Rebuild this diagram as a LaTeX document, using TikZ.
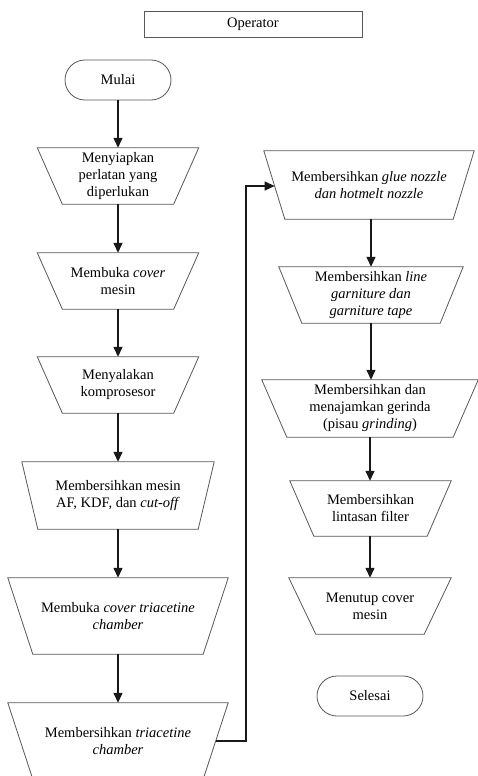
\documentclass[tikz,border=0pt]{standalone}
\usepackage{fontspec}
\setmainfont{Liberation Serif}
\usetikzlibrary{arrows.meta,calc}
\tikzset{
  lbl/.style={draw=none,inner sep=0pt,align=center,font=\fontsize{14.5}{17}\selectfont},
  outline/.style={draw=black!65,line width=0.8pt},
  term/.style={lbl,outline,rounded corners=20pt,minimum width=106pt,minimum height=40pt},
  hdr/.style={lbl,outline,minimum width=218pt,minimum height=26pt},
  flow/.style={line width=1.3pt,black!90,-{Triangle[length=10pt,width=9pt]}}
}
% \trapbox{name}{cx}{cy}{top width}{height}{inset}{text}
\newcommand{\trapbox}[7]{%
  \node[lbl,minimum width=#4pt,minimum height=#5pt] (#1) at (#2,#3) {#7};
  \draw[outline] (#1.north west) -- (#1.north east) -- ([xshift=-#6pt]#1.south east) -- ([xshift=#6pt]#1.south west) -- cycle;
}
\begin{document}
\begin{tikzpicture}[x=1pt,y=-1pt]
\useasboundingbox (0,0) rectangle (478,776);
\fill[white] (0,0) rectangle (478,776);

\node[hdr] (op) at (253,24) {Operator};
\node[term] (start) at (118,80) {Mulai};

\trapbox{t1}{118}{176}{161}{56}{25}{Menyiapkan\\perlatan yang\\diperlukan}
\trapbox{t2}{118}{281}{161}{56}{25}{Membuka \textit{cover}\\mesin}
\trapbox{t3}{118}{385}{161}{56}{25}{Menyalakan\\komprosesor}
\trapbox{t4}{118}{495.5}{192}{67}{16}{Membersihkan mesin\\AF, KDF, dan \textit{cut-off}}
\trapbox{t5}{118}{616}{220}{76}{25}{Membuka \textit{cover triacetine}\\\textit{chamber}}
\trapbox{t6}{118}{741}{220}{76}{25}{Membersihkan \textit{triacetine}\\\textit{chamber}}

\trapbox{t7}{369}{185}{210}{68}{21}{Membersihkan \textit{glue nozzle}\\\textit{dan hotmelt nozzle}}
\trapbox{t8}{371}{295}{184}{56}{23}{Membersihkan \textit{line}\\\textit{garniture dan}\\\textit{garniture tape}}
\trapbox{t9}{370}{408.5}{216}{57}{25}{Membersihkan dan\\menajamkan gerinda\\(pisau \textit{grinding})}
\trapbox{t10}{370.5}{508.5}{161}{55}{24}{Membersihkan\\lintasan filter}
\trapbox{t11}{370}{606}{162}{56}{27}{Menutup cover\\mesin}

\node[term] (end) at (370,696) {Selesai};

\draw[flow] (start.south) -- (t1.north);
\draw[flow] (t1.south) -- (t2.north);
\draw[flow] (t2.south) -- (t3.north);
\draw[flow] (t3.south) -- (t4.north);
\draw[flow] (t4.south) -- (t5.north);
\draw[flow] (t5.south) -- (t6.north);

\coordinate (out6) at ($(t6.north east)!0.5!([xshift=-25pt]t6.south east)$);
\coordinate (in7) at ($(t7.north west)!0.515!([xshift=21pt]t7.south west)$);
\coordinate (loopx) at (246,0);
\draw[flow] (out6) -- (out6 -| loopx) -- (in7 -| loopx) -- (in7);

\coordinate (colR) at (371,0);
\draw[flow] (t7.south -| colR) -- (t8.north -| colR);
\draw[flow] (t8.south -| colR) -- (t9.north -| colR);
\draw[flow] (t9.south) -- (t10.north -| t9.south);
\draw[flow] (t10.south -| t11.north) -- (t11.north);
\end{tikzpicture}
\end{document}
